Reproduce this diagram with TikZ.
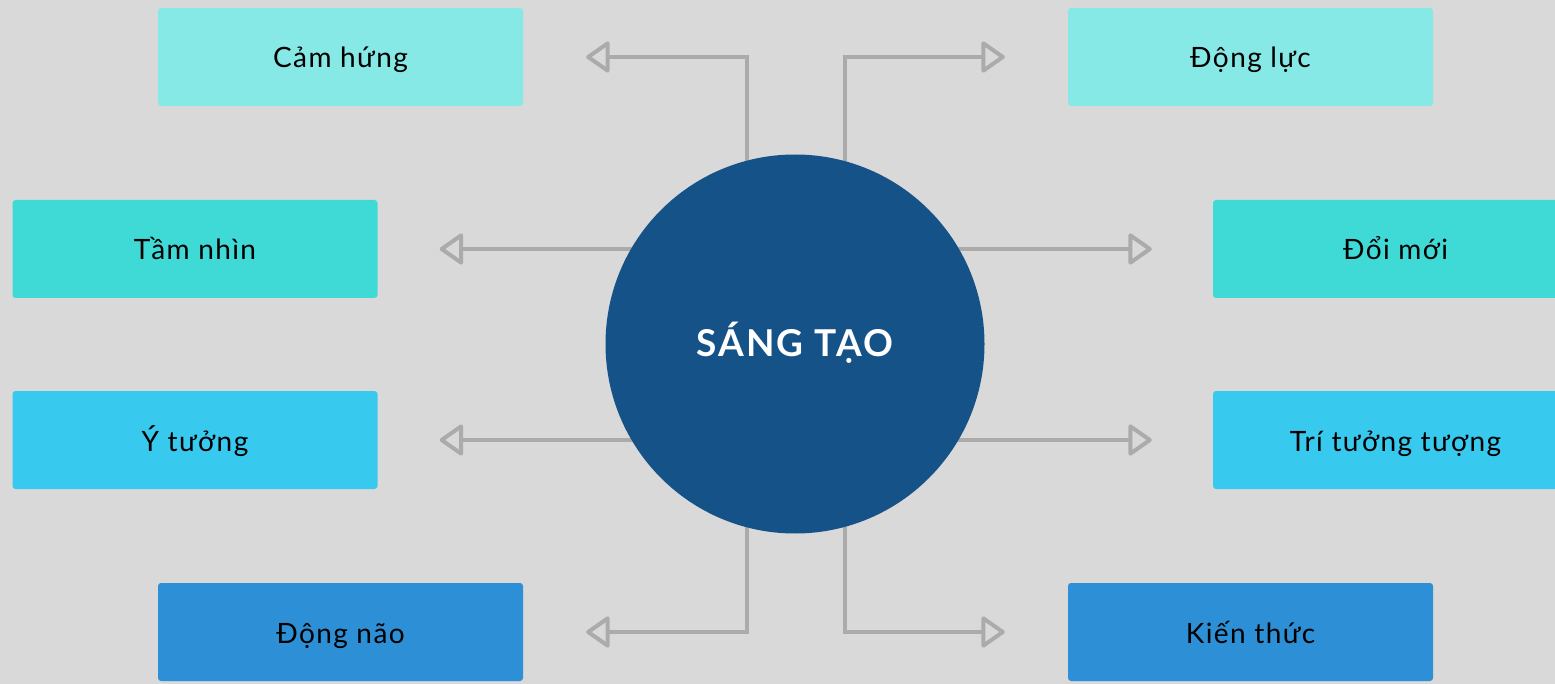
\documentclass[tikz,border=0pt]{standalone}
\usepackage{fontspec}
\setmainfont{Lato}[LetterSpace=5]
\newfontfamily\titlefont{Lato}[LetterSpace=6]
\usetikzlibrary{arrows.meta,backgrounds}
\definecolor{bg}{HTML}{D9D9D9}
\definecolor{cA}{HTML}{87E9E6}
\definecolor{cB}{HTML}{3FD9D6}
\definecolor{cC}{HTML}{38C9EF}
\definecolor{cD}{HTML}{2D8FD5}
\definecolor{circ}{HTML}{155288}
\definecolor{ln}{HTML}{ABABAB}
\begin{document}
\begin{tikzpicture}[x=1pt,y=-1pt,
  box/.style={rectangle,rounded corners=3pt,minimum width=365pt,minimum height=98pt,inner sep=0pt,text height=22pt,text depth=0pt,font=\fontsize{28}{32}\selectfont,text=black},
  conn/.style={draw=ln,line width=4pt,line join=miter,-{Triangle[open,length=25pt,width=34pt,fill=bg,line join=round]}}]
\useasboundingbox (0,0) rectangle (1555,684);
\node[circle,fill=circ,minimum size=379pt,inner sep=0pt,text=white,text height=26pt,text depth=0pt,font=\titlefont\fontsize{37}{42}\selectfont\bfseries] (c) at (795,344) {SÁNG TẠO};
\node[box,fill=cA] (b1) at (340.5,57) {Cảm hứng};
\node[box,fill=cA] (b2) at (1250.5,57) {Động lực};
\node[box,fill=cB] (b3) at (195,249) {Tầm nhìn};
\node[box,fill=cB] (b4) at (1395.5,249) {Đổi mới};
\node[box,fill=cC] (b5) at (195,440) {Ý tưởng};
\node[box,fill=cC] (b6) at (1395.5,440) {Trí tưởng tượng};
\node[box,fill=cD] (b7) at (340.5,632) {Động não};
\node[box,fill=cD] (b8) at (1250.5,632) {Kiến thức};
\begin{scope}[on background layer]
\fill[bg] (0,0) rectangle (1555,684);
\draw[conn,shorten >=63pt] ([xshift=-48pt]c.center) |- (b1.east);
\draw[conn,shorten >=63pt] ([xshift=50pt]c.center) |- (b2.west);
\draw[conn,shorten >=62pt] (b3.east -| c.center) -- (b3.east);
\draw[conn,shorten >=61pt] (b4.west -| c.center) -- (b4.west);
\draw[conn,shorten >=62pt] (b5.east -| c.center) -- (b5.east);
\draw[conn,shorten >=61pt] (b6.west -| c.center) -- (b6.west);
\draw[conn,shorten >=63pt] ([xshift=-48pt]c.center) |- (b7.east);
\draw[conn,shorten >=63pt] ([xshift=50pt]c.center) |- (b8.west);
\end{scope}
\end{tikzpicture}
\end{document}
